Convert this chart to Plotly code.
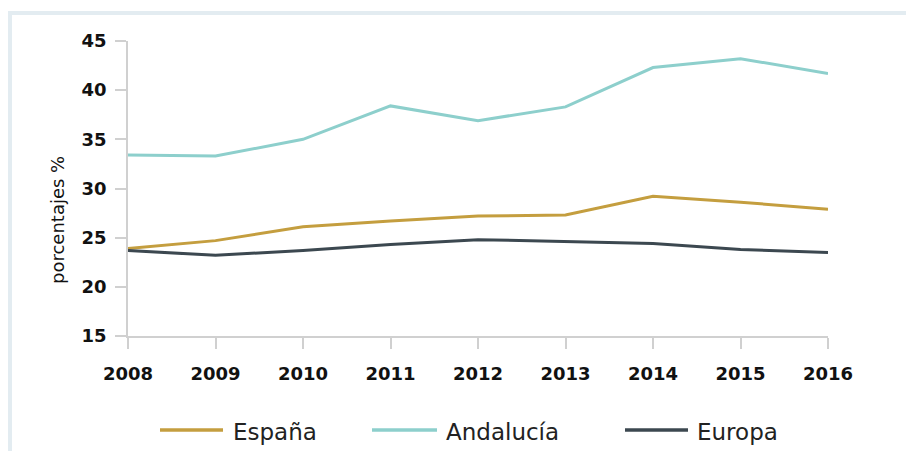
import plotly.graph_objects as go

# data
years = [2008, 2009, 2010, 2011, 2012, 2013, 2014, 2015, 2016]
espana = [23.9, 24.7, 26.1, 26.7, 27.2, 27.3, 29.2, 28.6, 27.9]
andalucia = [33.4, 33.3, 35.0, 38.4, 36.9, 38.3, 42.3, 43.2, 41.7]
europa = [23.7, 23.2, 23.7, 24.3, 24.8, 24.6, 24.4, 23.8, 23.5]

names = ["España", "Andalucía", "Europa"]
series = [espana, andalucia, europa]
colours = ["#C49E3F", "#8DCFCC", "#3C4850"]

W, H = 906, 451
L, R, T, B = 128, 78, 41, 115
pw, ph = W - L - R, H - T - B


# pixel -> paper coords helpers
def px_x(px):
    return (px - L) / pw


def px_y(py):
    return (H - B - py) / ph


fig = go.Figure()
for name, vals, c in zip(names, series, colours):
    fig.add_trace(
        go.Scatter(x=years, y=vals, name=name, mode="lines",
                   line=dict(color=c, width=3), hoverinfo="x+y+name")
    )

axis_grey = "#d0d0d0"
tickfont = dict(family="DejaVu Sans", size=18, color="#111111", weight="bold")

fig.update_xaxes(
    range=[2008, 2016], tickvals=years, ticktext=[str(y) for y in years],
    showgrid=False, zeroline=False, showline=True, linecolor=axis_grey, linewidth=1.5,
    ticks="outside", ticklen=11, tickcolor=axis_grey, tickwidth=1.5,
    tickfont=tickfont, ticklabelstandoff=10,
)
fig.update_yaxes(
    range=[15, 45], dtick=5,
    showgrid=False, zeroline=False, showline=True, linecolor=axis_grey, linewidth=1.5,
    ticks="outside", ticklen=11, tickcolor=axis_grey, tickwidth=1.5,
    tickfont=tickfont, ticklabelstandoff=5,
)

# light frame round the chart
shapes = [
    dict(type="rect", xref="paper", yref="paper",
         x0=px_x(10), x1=px_x(930), y0=px_y(480), y1=px_y(13),
         line=dict(color="#e3ecf1", width=4), layer="below")
]

annotations = [
    dict(text="porcentajes %", xref="paper", yref="paper", x=px_x(57), y=px_y(220),
         textangle=-90, showarrow=False, xanchor="center", yanchor="middle",
         font=dict(family="DejaVu Sans", size=18, color="#111111"))
]

# legend drawn by hand so the keys match the long line swatches
leg_lines = [(160, 223), (372, 437), (625, 688)]
leg_text_x = [231, 444, 695]
for name, c, (a, b), tx in zip(names, colours, leg_lines, leg_text_x):
    shapes.append(dict(type="line", xref="paper", yref="paper",
                       x0=px_x(a), x1=px_x(b), y0=px_y(430), y1=px_y(430),
                       line=dict(color=c, width=3.5)))
    annotations.append(dict(text=name, xref="paper", yref="paper",
                            x=px_x(tx), y=px_y(432), showarrow=False,
                            xanchor="left", yanchor="middle",
                            font=dict(family="DejaVu Sans", size=23, color="#222222")))

fig.update_layout(
    width=W, height=H,
    margin=dict(l=L, r=R, t=T, b=B),
    paper_bgcolor="white", plot_bgcolor="white",
    showlegend=False,
    shapes=shapes, annotations=annotations,
)

# drop the page's default body margin so the figure sits at the window corner
fig.write_html("out.html", config={"displayModeBar": False},
               post_script="document.body.style.margin='0';")
